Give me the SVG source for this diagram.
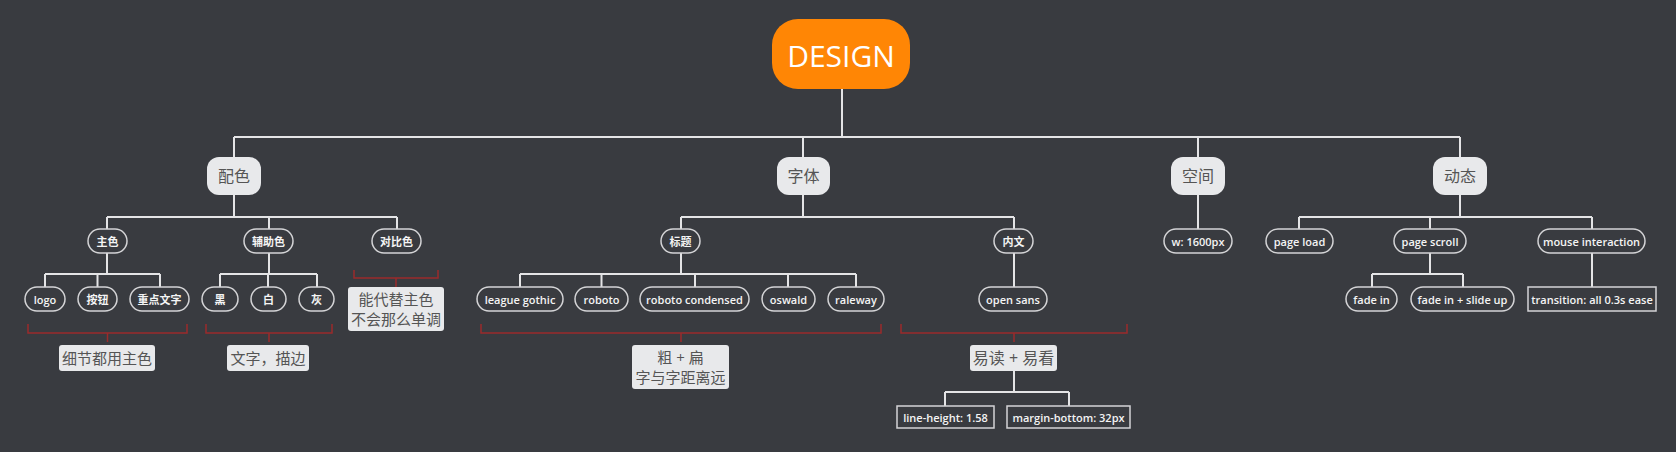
<svg xmlns="http://www.w3.org/2000/svg" width="1676" height="452" viewBox="0 0 1676 452">
<style>
text{font-family:"Open Sans","Noto Sans CJK SC",sans-serif;text-anchor:middle;dominant-baseline:central}
.root rect{fill:#ff8605}
.root text{fill:#fff;font-size:30px}
.l1 rect{fill:#e8e9eb}
.l1 text{fill:#555;font-size:16px}
.pill rect{fill:none;stroke:#d4d4d6;stroke-width:1.5}
.pill text{fill:#f4f4f4;font-size:11px;font-weight:600}
.sum rect{fill:#e8e9eb}
.sum text{fill:#555;font-size:15px}
.conn path{fill:none;stroke:#e4e4e6;stroke-width:2}
.brk path{fill:none;stroke:#9a2b2b;stroke-width:1.5}
</style>
<rect width="1676" height="452" fill="#393b40"/>
<g class="conn">
<path d="M842 89V137M234 137H1460M234 137V157M803 137V157M1198 137V157M1460 137V157"/>
<path d="M234 195V217M107 217H397M107 217V229M269 217V229M397 217V229"/>
<path d="M107 253V274M45 274H160M45 274V287M97.5 274V287M160 274V287"/>
<path d="M269 253V274M220 274H317M220 274V287M268 274V287M317 274V287"/>
<path d="M803 195V217M681 217H1014M681 217V229M1014 217V229"/>
<path d="M681 253V274M520 274H856M520 274V287M601.5 274V287M695 274V287M788 274V287M856 274V287"/>
<path d="M1014 253V287"/>
<path d="M1014 371V392M945 392H1069M945 392V406M1069 392V406"/>
<path d="M1198 195V229"/>
<path d="M1460 195V217M1299 217H1592M1299 217V229M1430 217V229M1592 217V229"/>
<path d="M1430 253V274M1372 274H1463M1372 274V287M1463 274V287"/>
<path d="M1592 253V287"/>
</g>
<g class="brk">
<path d="M28 324V333H187V324M107.5 333V342"/>
<path d="M206 324V333H332V324M269 333V342"/>
<path d="M354 270V278H438V270M396 278V287"/>
<path d="M481 324V333H881V324M681 333V342"/>
<path d="M901 324V333H1127V324M1014 333V342"/>
</g>
<g id="root" class="root"><rect x="772" y="19" width="138" height="70" rx="26"/><text x="841" y="55">DESIGN</text></g>
<g id="peise" class="l1"><rect x="207" y="157" width="54" height="38" rx="12"/><text x="234" y="176">配色</text></g>
<g id="ziti" class="l1"><rect x="777" y="157" width="53" height="38" rx="12"/><text x="803.5" y="176">字体</text></g>
<g id="kongjian" class="l1"><rect x="1171" y="157" width="54" height="38" rx="12"/><text x="1198" y="176">空间</text></g>
<g id="dongtai" class="l1"><rect x="1433" y="157" width="54" height="38" rx="12"/><text x="1460" y="176">动态</text></g>
<g id="zhuse" class="pill"><rect x="88" y="229" width="39" height="24" rx="12"/><text x="107.5" y="241">主色</text></g>
<g id="fuzhuse" class="pill"><rect x="244" y="229" width="49" height="24" rx="12"/><text x="268.5" y="241">辅助色</text></g>
<g id="duibise" class="pill"><rect x="372" y="229" width="49" height="24" rx="12"/><text x="396.5" y="241">对比色</text></g>
<g id="logo" class="pill"><rect x="25" y="287" width="40" height="24" rx="12"/><text x="45" y="299">logo</text></g>
<g id="anniu" class="pill"><rect x="78" y="287" width="39" height="24" rx="12"/><text x="97.5" y="299">按钮</text></g>
<g id="zhongdian" class="pill"><rect x="130" y="287" width="59" height="24" rx="12"/><text x="159.5" y="299">重点文字</text></g>
<g id="hei" class="pill"><rect x="202" y="287" width="36" height="24" rx="12"/><text x="220" y="299">黑</text></g>
<g id="bai" class="pill"><rect x="251" y="287" width="35" height="24" rx="12"/><text x="268.5" y="299">白</text></g>
<g id="hui" class="pill"><rect x="299" y="287" width="35" height="24" rx="12"/><text x="316.5" y="299">灰</text></g>
<g id="sum1" class="sum"><rect x="59" y="345" width="96" height="26" rx="3"/><text x="107" y="358">细节都用主色</text></g>
<g id="sum2" class="sum"><rect x="227" y="345" width="82" height="26" rx="3"/><text x="268" y="358">文字，描边</text></g>
<g id="sum3" class="sum"><rect x="348" y="287" width="96" height="44" rx="3"/><text x="396" y="299">能代替主色</text><text x="396" y="319">不会那么单调</text></g>
<g id="biaoti" class="pill"><rect x="661" y="229" width="39" height="24" rx="12"/><text x="680.5" y="241">标题</text></g>
<g id="neiwen" class="pill"><rect x="994" y="229" width="39" height="24" rx="12"/><text x="1013.5" y="241">内文</text></g>
<g id="league" class="pill"><rect x="477" y="287" width="86" height="24" rx="12"/><text x="520" y="299">league gothic</text></g>
<g id="roboto" class="pill"><rect x="575" y="287" width="53" height="24" rx="12"/><text x="601.5" y="299">roboto</text></g>
<g id="robotoc" class="pill"><rect x="640" y="287" width="109" height="24" rx="12"/><text x="694.5" y="299">roboto condensed</text></g>
<g id="oswald" class="pill"><rect x="762" y="287" width="53" height="24" rx="12"/><text x="788.5" y="299">oswald</text></g>
<g id="raleway" class="pill"><rect x="828" y="287" width="56" height="24" rx="12"/><text x="856" y="299">raleway</text></g>
<g id="opensans" class="pill"><rect x="979" y="287" width="68" height="24" rx="12"/><text x="1013" y="299">open sans</text></g>
<g id="sum4" class="sum"><rect x="632" y="345" width="97" height="44" rx="3"/><text x="680.5" y="357">粗 + 扁</text><text x="680.5" y="377">字与字距离远</text></g>
<g id="sum5" class="sum"><rect x="970" y="345" width="87" height="26" rx="3"/><text x="1013.5" y="358" style="font-size:16px">易读 + 易看</text></g>
<g id="lineheight" class="pill"><rect x="897" y="406" width="97" height="22" rx="0"/><text x="945.5" y="417">line-height: 1.58</text></g>
<g id="marginb" class="pill"><rect x="1007" y="406" width="123" height="22" rx="0"/><text x="1068.5" y="417">margin-bottom: 32px</text></g>
<g id="w1600" class="pill"><rect x="1164" y="229" width="68" height="24" rx="12"/><text x="1198" y="241">w: 1600px</text></g>
<g id="pageload" class="pill"><rect x="1266" y="229" width="67" height="24" rx="12"/><text x="1299.5" y="241">page load</text></g>
<g id="pagescroll" class="pill"><rect x="1394" y="229" width="72" height="24" rx="12"/><text x="1430" y="241">page scroll</text></g>
<g id="mouse" class="pill"><rect x="1538" y="229" width="107" height="24" rx="12"/><text x="1591.5" y="241">mouse interaction</text></g>
<g id="fadein" class="pill"><rect x="1346" y="287" width="51" height="24" rx="12"/><text x="1371.5" y="299">fade in</text></g>
<g id="fadeslide" class="pill"><rect x="1411" y="287" width="103" height="24" rx="12"/><text x="1462.5" y="299">fade in + slide up</text></g>
<g id="transition" class="pill"><rect x="1528" y="287" width="128" height="24" rx="0"/><text x="1592" y="299">transition: all 0.3s ease</text></g>
</svg>
